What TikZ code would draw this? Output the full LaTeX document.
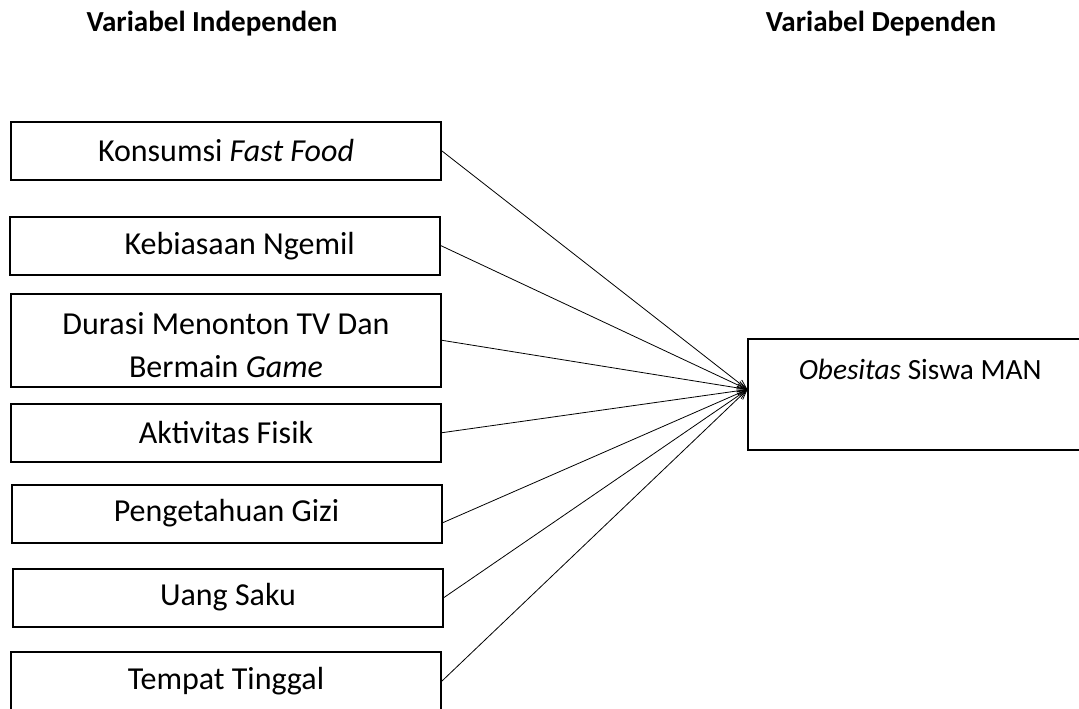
\documentclass[tikz,border=0pt]{standalone}
\usepackage{fontspec}
\setmainfont{Carlito}
\usetikzlibrary{arrows.meta}
\tikzset{
    varbox/.style={draw, line width=1.5pt, minimum width=322.5pt, minimum height=43.5pt,
        inner sep=0pt, align=center, font=\fontsize{24}{32}\selectfont},
    heading/.style={font=\fontsize{21.8}{26}\selectfont\bfseries},
    link/.style={line width=0.6pt, -{Straight Barb[length=7pt,width=6pt]}}
}
\begin{document}
\begin{tikzpicture}[x=0.75pt,y=-0.75pt]
    \useasboundingbox (0,0) rectangle (1079,709);
    \node[heading] (indep) at (212,24) {Variabel Independen};
    \node[heading] (dep) at (881,24) {Variabel Dependen};
    \node[varbox] (fastfood) at (226,151) {Konsumsi \textit{Fast Food}};
    \node[varbox] (ngemil) at (225,245.7) {\hspace*{22pt}Kebiasaan Ngemil};
    \node[varbox, minimum height=70pt] (durasi) at (226,340.3) {\rule{0pt}{24pt}Durasi Menonton TV Dan\\Bermain \textit{Game}};
    \node[varbox] (fisik) at (226,432.7) {Aktivitas Fisik};
    \node[varbox] (gizi) at (226.5,513.5) {Pengetahuan Gizi};
    \node[varbox] (saku) at (228,597.5) {Uang Saku};
    \node[varbox] (tinggal) at (226,681) {Tempat Tinggal};
    \node[varbox, minimum width=257.6pt, minimum height=83.3pt, font=\fontsize{22}{38}\selectfont] (obesitas) at (920.2,394.5) {\textit{Obesitas} Siswa MAN\\\mbox{}};
    \coordinate (tip) at ([yshift=3.75pt]obesitas.west);
    \draw[link] (fastfood.east) -- (tip);
    \draw[link] (ngemil.east) -- (tip);
    \draw[link] (durasi.east) -- (tip);
    \draw[link] (fisik.east) -- (tip);
    \draw[link] ([yshift=-7pt]gizi.east) -- (tip);
    \draw[link] (saku.east) -- (tip);
    \draw[link] (tinggal.east) -- (tip);
\end{tikzpicture}
\end{document}
